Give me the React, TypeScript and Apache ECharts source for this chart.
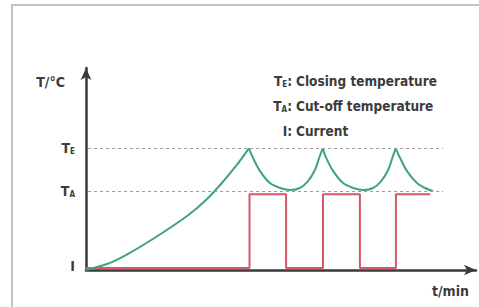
import React, { useEffect, useRef } from "react";
import * as echarts from "echarts";

// Levels (y units)
const levelTE = 100; // closing temperature
const levelTA = 64.8; // cut-off temperature
const levelI = 1.6; // current (low level)
const currentHigh = 62.3;

// Temperature curve (t, T)
const tempRise1 = [[0, 0], [7, 4.9], [13.3, 12.3], [22.3, 25.5], [33.7, 44.4], [40, 57.5], [45, 70.7], [50, 85.5], [54.3, 100]];
const tempValley1 = [[54.3, 100], [55.7, 92], [58, 81.3], [61.3, 71.5], [64.7, 67.4], [68, 65.7], [71.3, 67.4], [74, 73.1], [76.3, 82.2], [77.7, 92], [78.9, 100]];
const tempValley2 = [[78.9, 100], [80.1, 92], [82.4, 81.3], [85.7, 71.5], [89.1, 67.4], [92.4, 65.7], [95.7, 67.4], [98.4, 73.1], [100.7, 82.2], [102.1, 92], [103.2, 100]];
const tempDecay3 = [[103.2, 100], [104.7, 92], [107, 81.3], [110.3, 71.5], [113, 67.4], [115.7, 64.8]];

// Current (square wave)
const currentSteps = [
  [0, levelI], [54.5, levelI], [54.5, currentHigh], [66.7, currentHigh], [66.7, levelI],
  [79, levelI], [79, currentHigh], [91.3, currentHigh], [91.3, levelI], [103.3, levelI],
  [103.3, currentHigh], [114.7, currentHigh],
];

const refLineEnd = 119;
const legendKeys = ["T{s|E}:", "T{s|A}:", "I:"];
const legendTexts = ["Closing temperature", "Cut-off temperature", "Current"];

const FONT = "'DejaVu Sans Condensed', 'Liberation Sans Narrow', sans-serif";
const TXT = "#3c3c3c";
const GREEN = "#3fa37b";
const RED = "#d6566b";

export default function App() {
  const ref = useRef<HTMLDivElement>(null);
  useEffect(() => {
    if (!ref.current) return;
    const chart = echarts.init(ref.current, null, { renderer: "svg" });
    const tempSegs = [tempRise1, tempValley1, tempValley2, tempDecay3];
    const rich = {
      m: { fontFamily: FONT, fontWeight: "bold", fontSize: 14, color: TXT },
      s: { fontFamily: FONT, fontWeight: "bold", fontSize: 8, color: TXT, verticalAlign: "bottom", padding: [6, 0, 0, 0] },
    };
    const graphics: any[] = [
      { type: "rect", shape: { x: 12, y: 5, width: 480, height: 320 }, style: { fill: "none", stroke: "#c4c4c4", lineWidth: 2 }, silent: true },
    ];
    legendKeys.forEach((k, i) => {
      graphics.push({
        type: "text", x: 292, y: 81 + i * 25,
        style: { text: k, align: "right", verticalAlign: "middle", font: `bold 13.5px ${FONT}`, fill: TXT, rich },
      });
      graphics.push({
        type: "text", x: 296, y: 81 + i * 25,
        style: { text: legendTexts[i], align: "left", verticalAlign: "middle", font: `bold 13.5px ${FONT}`, fill: TXT },
      });
    });
    chart.setOption({
      animation: false,
      backgroundColor: "#ffffff",
      grid: { left: 86, right: 3, top: 68, bottom: 37 },
      xAxis: {
        type: "value", min: 0, max: 130,
        axisLine: { show: true, symbol: ["none", "arrow"], symbolSize: [8, 12], lineStyle: { color: "#3a3a3a", width: 2.5 } },
        axisTick: { show: false }, axisLabel: { show: false }, splitLine: { show: false },
        name: "t/min", nameLocation: "end", nameGap: -44,
        nameTextStyle: { fontFamily: FONT, fontWeight: "bold", fontSize: 14, color: TXT, align: "left", verticalAlign: "top", padding: [14, 0, 0, 0] },
      },
      yAxis: {
        type: "value", min: 0, max: 166,
        axisLine: { show: true, symbol: ["none", "arrow"], symbolSize: [8, 12], lineStyle: { color: "#3a3a3a", width: 2.5 } },
        axisTick: { show: false }, splitLine: { show: false },
        axisLabel: {
          show: true, customValues: [levelTE, levelTA, 3.3], margin: 11,
          formatter: (v: number) => (v === levelTE ? "{m|T}{s|E}" : v === levelTA ? "{m|T}{s|A}" : "{m|I}"),
          rich,
        },
        name: "T/°C", nameLocation: "end", nameGap: -14,
        nameTextStyle: { fontFamily: FONT, fontWeight: "bold", fontSize: 14, color: TXT, align: "right", verticalAlign: "middle", padding: [0, 21, 0, 0] },
      },
      graphic: graphics,
      series: [
        {
          type: "line", data: currentSteps, showSymbol: false, smooth: false,
          lineStyle: { color: RED, width: 2 }, z: 3,
          markLine: {
            silent: true, symbol: "none", label: { show: false },
            lineStyle: { color: "#9a9a9a", type: [3, 3], width: 1 },
            data: [
              [{ coord: [0.7, levelTE] }, { coord: [refLineEnd, levelTE] }],
              [{ coord: [0.7, levelTA] }, { coord: [refLineEnd, levelTA] }],
            ],
          },
        },
        ...tempSegs.map((seg) => ({
          type: "line", data: seg, showSymbol: false, smooth: 0.3,
          lineStyle: { color: GREEN, width: 2 }, z: 4,
        })),
      ],
    });
    return () => chart.dispose();
  }, []);
  return <div ref={ref} style={{ position: "fixed", left: 0, top: 0, width: 479, height: 307 }} />;
}
